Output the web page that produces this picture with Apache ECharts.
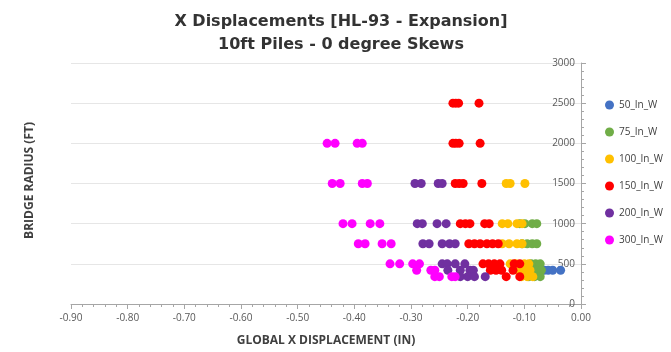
<!DOCTYPE html>
<html><head><meta charset="utf-8">
<script src="https://cdn.jsdelivr.net/npm/echarts@6/dist/echarts.min.js"></script>
<style>html,body{margin:0;padding:0;background:#fff}#c{width:671px;height:352px}</style>
</head><body><div id="c"></div>
<script>
const seriesNames = ['50_In_W','75_In_W','100_In_W','150_In_W','200_In_W','300_In_W'];
const seriesColors = ['#4472C4','#70AD47','#FFC000','#FF0000','#7030A0','#FF00FF'];

const in50 = [[-0.065,420],[-0.058,420],[-0.050,420],[-0.036,420]];
const in75 = [
  [-0.108,1000],[-0.099,1000],[-0.086,1000],[-0.078,1000],
  [-0.104,750],[-0.095,750],[-0.086,750],[-0.078,750],
  [-0.088,500],[-0.080,500],[-0.072,500],
  [-0.090,420],[-0.080,420],[-0.070,420],
  [-0.092,340],[-0.082,340],[-0.072,340]
];
const in100 = [
  [-0.132,1500],[-0.125,1500],[-0.099,1500],
  [-0.139,1000],[-0.129,1000],[-0.113,1000],[-0.104,1000],
  [-0.139,750],[-0.127,750],[-0.113,750],[-0.104,750],
  [-0.125,500],[-0.115,500],[-0.100,500],[-0.092,500],
  [-0.112,420],[-0.100,420],[-0.090,420],
  [-0.105,340],[-0.095,340],[-0.085,340]
];
const in150 = [
  [-0.226,2500],[-0.221,2500],[-0.216,2500],[-0.180,2500],
  [-0.226,2000],[-0.221,2000],[-0.215,2000],[-0.178,2000],
  [-0.222,1500],[-0.215,1500],[-0.208,1500],[-0.175,1500],
  [-0.213,1000],[-0.204,1000],[-0.196,1000],[-0.170,1000],[-0.162,1000],
  [-0.198,750],[-0.188,750],[-0.178,750],[-0.166,750],[-0.156,750],[-0.146,750],
  [-0.173,500],[-0.163,500],[-0.153,500],[-0.143,500],[-0.118,500],[-0.108,500],
  [-0.160,420],[-0.150,420],[-0.140,420],[-0.120,420],
  [-0.132,340],[-0.108,340]
];
const in200 = [
  [-0.293,1500],[-0.282,1500],[-0.252,1500],[-0.245,1500],
  [-0.289,1000],[-0.280,1000],[-0.254,1000],[-0.238,1000],
  [-0.279,750],[-0.268,750],[-0.245,750],[-0.232,750],[-0.222,750],
  [-0.245,500],[-0.236,500],[-0.222,500],[-0.205,500],
  [-0.235,420],[-0.213,420],[-0.196,420],[-0.190,420],
  [-0.213,340],[-0.200,340],[-0.188,340],[-0.169,340]
];
const in300 = [
  [-0.448,2000],[-0.434,2000],[-0.395,2000],[-0.386,2000],
  [-0.439,1500],[-0.425,1500],[-0.386,1500],[-0.377,1500],
  [-0.420,1000],[-0.404,1000],[-0.372,1000],[-0.355,1000],
  [-0.393,750],[-0.381,750],[-0.351,750],[-0.335,750],
  [-0.337,500],[-0.320,500],[-0.297,500],[-0.285,500],
  [-0.290,420],[-0.265,420],[-0.258,420],
  [-0.258,340],[-0.250,340],[-0.228,340],[-0.222,340]
];
const allData = [in50,in75,in100,in150,in200,in300];

const chart = echarts.init(document.getElementById('c'));
const font = 'Open Sans, Liberation Sans, sans-serif';
chart.setOption({
  animation:false,
  title:{
    text:'X Displacements [HL-93 - Expansion]\n10ft Piles - 0 degree Skews',
    left:336, top:5, textAlign:'center',
    textStyle:{fontFamily:'DejaVu Sans',fontWeight:'bold',fontSize:16,color:'#333333',lineHeight:23}
  },
  legend:{
    orient:'vertical', left:600, top:95, itemGap:17, itemWidth:9, itemHeight:9,
    icon:'circle',
    textStyle:{fontFamily:font,fontSize:10,color:'#404040'},
    data:seriesNames
  },
  grid:{left:71,right:90,top:63,bottom:46},
  xAxis:{
    type:'value', min:-0.9, max:0, interval:0.1,
    name:'GLOBAL X DISPLACEMENT (IN)', nameLocation:'middle', nameGap:31,
    nameTextStyle:{fontFamily:font,fontWeight:'bold',fontSize:12,color:'#404040'},
    axisLine:{onZero:false,lineStyle:{color:'#a6a6a6'}},
    axisTick:{show:true,length:5,lineStyle:{color:'#a6a6a6'}},
    minorTick:{show:true,splitNumber:5,length:3,lineStyle:{color:'#a6a6a6'}},
    splitLine:{show:false},
    axisLabel:{fontFamily:font,fontSize:10,color:'#595959',margin:9,formatter:v=>v.toFixed(2)}
  },
  yAxis:{
    type:'value', position:'right', min:0, max:3000, interval:500,
    axisLine:{show:true,lineStyle:{color:'#a6a6a6'}},
    axisTick:{show:true,length:5,lineStyle:{color:'#a6a6a6'}},
    minorTick:{show:true,splitNumber:5,length:3,lineStyle:{color:'#a6a6a6'}},
    splitLine:{show:true,lineStyle:{color:'#e6e6e6',width:1}},
    axisLabel:{inside:true,fontFamily:font,fontSize:10,color:'#595959',margin:6,formatter:v=>String(v)}
  },
  graphic:[{
    type:'text', left:24, top:122, rotation:Math.PI/2,
    style:{text:'BRIDGE RADIUS (FT)',fontFamily:font,fontWeight:'bold',fontSize:12,fill:'#404040'}
  }],
  series: allData.map((d,i)=>({
    name:seriesNames[i], type:'scatter', data:d, symbol:'circle', symbolSize:9,
    itemStyle:{color:seriesColors[i],opacity:1}
  }))
});
</script></body></html>
